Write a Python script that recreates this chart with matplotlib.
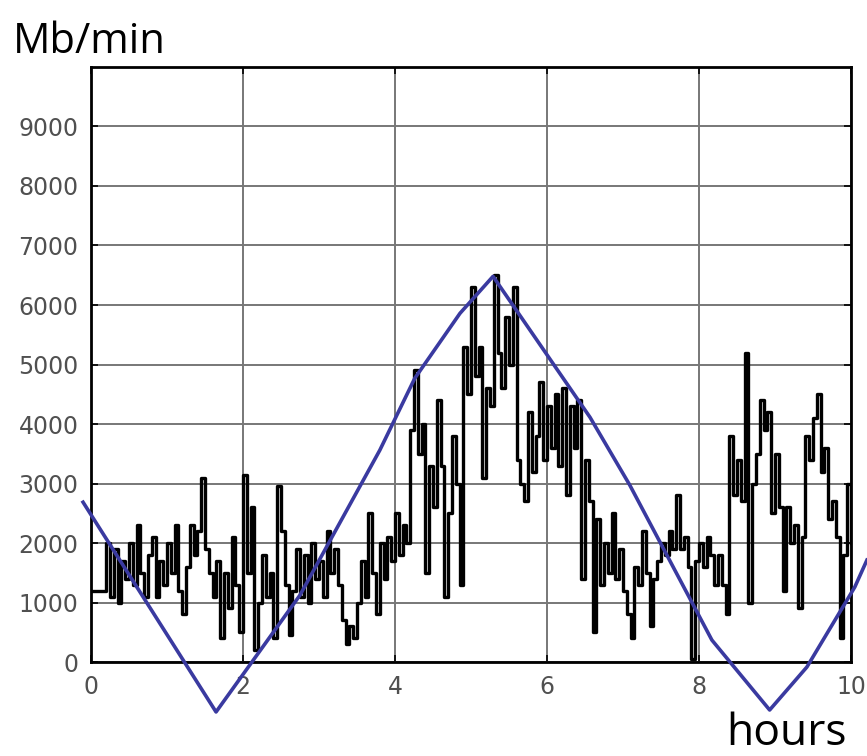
import numpy as np
import matplotlib.pyplot as plt

# traffic samples, one every 3 minutes (0.05 h)
hours = np.round(np.arange(0, 10.0001, 0.05), 2)
traffic = [
    1200, 1200, 1200, 1200,
    2000, 1100, 1900, 1000, 1700, 1400, 2000, 1300, 2300, 1500,
    1100, 1800, 2100, 1100, 1700, 1300, 2000, 1500, 2300, 1200,
    800, 1600, 2300, 1800, 2200, 3100, 1900, 1500, 1100, 1700,
    400, 1500, 900, 2100, 1300, 500, 3150, 1500, 2600, 200,
    1000, 1800, 1100, 1500, 400, 2950, 2200, 1300, 450, 1200,
    1900, 1100, 1800, 1000, 2000, 1400, 1700, 1100, 2200, 1500, 1900,
    1300, 700, 300, 600, 400, 1000, 1700, 1100, 2500, 1500,
    800, 2000, 1400, 2100, 1700, 2500, 1800, 2300, 2000, 3900,
    4900, 3500, 4000, 1500, 3300, 2600, 4400, 3300, 1100, 2500,
    3800, 3000, 1300, 5300,
    4500, 6300, 4800, 5300, 3100, 4600, 4300, 6500, 5200, 4600,
    5800, 5000, 6300, 3400, 3000, 2700, 4200, 3200, 3800, 4700,
    3400, 4300, 3600, 4500, 3300, 4600, 2800, 4300, 3600, 4400,
    1400, 3400, 2700,
    500, 2400, 1300, 2000, 1500, 2500, 1400, 1900, 1200, 800,
    400, 1600, 1300, 2200, 1500, 600, 1400, 1700, 2000, 1800,
    2200, 1900, 2800, 1900, 2100, 1600, 50, 1700, 2000, 1600,
    2100, 1800, 1300,
    1800, 1300, 800, 3800, 2800, 3400, 2700, 5200, 1000, 3000,
    3500, 4400, 3900, 4200, 2500, 3500, 2600, 1200, 2600, 2000,
    2300, 900, 2100, 3800, 3400, 4100, 4500, 3200, 3600, 2400,
    2700, 2100, 400, 1800, 3000, 2000,
]

# hand-drawn blue trend line
trend_x = [-0.105, 1.645, 2.75, 3.80, 4.26, 4.855, 5.29, 6.566, 7.09, 8.17, 8.93, 9.42, 10.05, 10.21]
trend_y = [2686, -839, 1125, 3560, 4768, 5860, 6481, 4113, 2972, 369, -806, -84, 1259, 1713]

fig = plt.figure(figsize=(8.67, 7.56), dpi=100)
ax = fig.add_axes([0.105, 0.1243, 0.8765, 0.7871])

ax.plot(hours, traffic, color="black", linewidth=2.4, drawstyle="steps-post", zorder=3)
ax.plot(trend_x, trend_y, color="#3a3aa0", linewidth=2.6, clip_on=False, zorder=4)

ax.set_xlim(0, 10)
ax.set_ylim(0, 10000)
ax.set_xticks(range(0, 11, 2))
ax.set_yticks(range(0, 10000, 1000))
ax.grid(True, color="#777777", linewidth=1.4)
ax.set_axisbelow(True)
ax.tick_params(direction="in", top=True, right=True, length=5, width=1.2,
               labelsize=17, labelcolor="#505050", pad=9)
for s in ax.spines.values():
    s.set_linewidth(2.0)

fig.text(0.015, 0.93, "Mb/min", fontsize=30, family="Open Sans", ha="left", va="baseline")
fig.text(0.838, 0.0, "hours", fontsize=32, family="Open Sans", ha="left", va="bottom")

plt.savefig("out.png", dpi=100)
